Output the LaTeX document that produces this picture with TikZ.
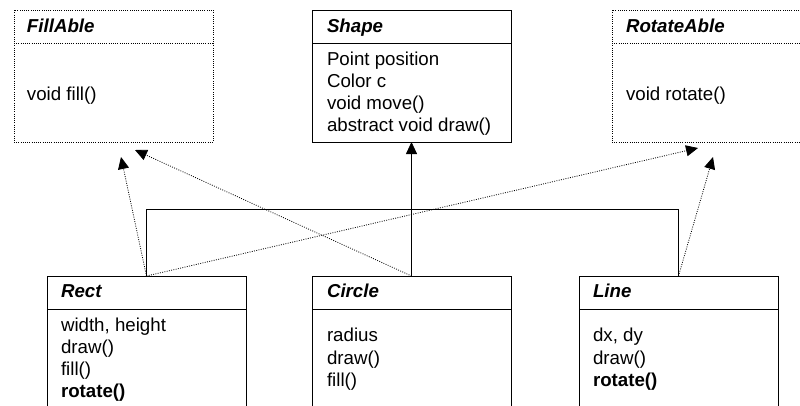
\documentclass[tikz,border=0pt]{standalone}
\usepackage{fontspec}
\setmainfont{Liberation Sans}
\usetikzlibrary{arrows.meta}
\begin{document}
\begin{tikzpicture}[x=1pt,y=-1pt,
  every node/.style={inner sep=0pt, outer sep=0pt, font=\fontsize{18.7pt}{22pt}\selectfont},
  classbox/.style={draw=black, line width=0.8pt, rectangle, minimum width=199pt, anchor=north west},
  topbox/.style={classbox, minimum height=132pt},
  lowbox/.style={classbox, minimum height=200pt},
  ifacebox/.style={topbox, dash pattern=on 0.9pt off 1.3pt},
  title/.style={anchor=base west, font=\fontsize{18.7pt}{22pt}\selectfont\bfseries\itshape},
  member/.style={anchor=base west},
  realize/.style={line width=0.8pt, dash pattern=on 0.9pt off 1.4pt, -{Triangle[length=12pt,width=11pt]}},
  extend/.style={line width=0.8pt, -{Triangle[length=12pt,width=11pt]}},
  treeline/.style={line width=0.8pt}]
\useasboundingbox (0,0) rectangle (800,405);
\clip (0,0) rectangle (800,405);

% interfaces and abstract base
\node[ifacebox] (fillable) at (14,10) {};
\draw[dash pattern=on 0.9pt off 1.3pt, line width=0.8pt]
  ([yshift=-33pt]fillable.north west) -- ([yshift=-33pt]fillable.north east);
\node[title] (fillableT) at (27,32.5) {FillAble};
\node[member] (fillableM) at (27,100.5) {void fill()};

\node[topbox] (shape) at (312,10) {};
\draw[line width=0.8pt]
  ([yshift=-33pt]shape.north west) -- ([yshift=-33pt]shape.north east);
\node[title] (shapeT) at (327,32.5) {Shape};
\node[member] (shapeA) at (327,65.5) {Point position};
\node[member] (shapeB) at (327,87.5) {Color c};
\node[member] (shapeC) at (327,109.5) {void move()};
\node[member] (shapeD) at (327,131.5) {abstract void draw()};

\node[ifacebox] (rotateable) at (612,10) {};
\draw[dash pattern=on 0.9pt off 1.3pt, line width=0.8pt]
  ([yshift=-33pt]rotateable.north west) -- ([yshift=-33pt]rotateable.north east);
\node[title] (rotateableT) at (626,32.5) {RotateAble};
\node[member] (rotateableM) at (626,100.5) {void rotate()};

% concrete classes
\node[lowbox] (rect) at (47,276) {};
\draw[line width=0.8pt]
  ([yshift=-33pt]rect.north west) -- ([yshift=-33pt]rect.north east);
\node[title] (rectT) at (61,297.7) {Rect};
\node[member] (rectA) at (61,331) {width, height};
\node[member] (rectB) at (61,353.2) {draw()};
\node[member] (rectC) at (61,375.4) {fill()};
\node[member, font=\fontsize{18.7pt}{22pt}\selectfont\bfseries] (rectD) at (61,397.6) {rotate()};

\node[lowbox] (circle) at (312,276) {};
\draw[line width=0.8pt]
  ([yshift=-33pt]circle.north west) -- ([yshift=-33pt]circle.north east);
\node[title] (circleT) at (327,297.7) {Circle};
\node[member] (circleA) at (327,341.7) {radius};
\node[member] (circleB) at (327,364) {draw()};
\node[member] (circleC) at (327,386.3) {fill()};

\node[lowbox] (line) at (579,276) {};
\draw[line width=0.8pt]
  ([yshift=-33pt]line.north west) -- ([yshift=-33pt]line.north east);
\node[title] (lineT) at (593,297.7) {Line};
\node[member] (lineA) at (593,341.7) {dx, dy};
\node[member] (lineB) at (593,364) {draw()};
\node[member, font=\fontsize{18.7pt}{22pt}\selectfont\bfseries] (lineC) at (593,386.3) {rotate()};

% inheritance tree
\draw[treeline] (rect.north) -- ++(0,-67) -| (line.north);
\draw[extend] (circle.north) -- (shape.south);

% interface realisations
\coordinate (fillTipRect) at (121,157);
\coordinate (fillTipCircle) at (135,150);
\coordinate (rotTipRect) at (698,148);
\coordinate (rotTipLine) at (713,157);
\draw[realize] (rect.north) -- (fillTipRect);
\draw[realize] (circle.north) -- (fillTipCircle);
\draw[realize] (rect.north) -- (rotTipRect);
\draw[realize] (line.north) -- (rotTipLine);
\end{tikzpicture}
\end{document}
